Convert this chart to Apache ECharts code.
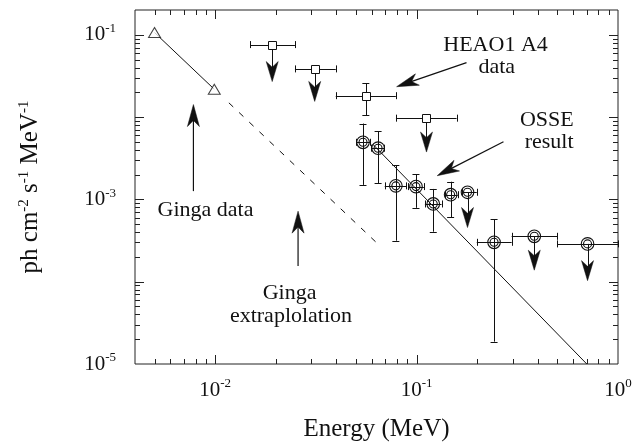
<!DOCTYPE html>
<html><head><meta charset="utf-8">
<script src="https://cdn.jsdelivr.net/npm/echarts@6/dist/echarts.min.js"></script>
<style>html,body{margin:0;padding:0;background:#fff}#c{width:637px;height:447px}</style>
</head><body><div id="c"></div>
<script>
// ---- data ----
// Ginga data points (triangles) and extrapolation
const gingaX = [0.005, 0.0099];
const gingaY = [0.1065, 0.0218];
const gingaExtrapX = [0.0117, 0.064];
const gingaExtrapY = [0.0149, 0.00029];

// HEAO1 A4 points (squares)
const heaoX    = [0.0192, 0.0312, 0.056, 0.112];
const heaoY    = [0.076, 0.0385, 0.0182, 0.0097];
const heaoXLo  = [0.0149, 0.0249, 0.0397, 0.079];
const heaoXHi  = [0.0249, 0.0397, 0.0789, 0.158];
const heaoYLo  = [null, null, 0.0105, null];
const heaoYHi  = [null, null, 0.0258, null];
const heaoLimit = [0.027, 0.0155, null, 0.00376];

// OSSE points (double circles)
const osseX    = [0.0542, 0.0644, 0.0789, 0.0993, 0.121, 0.1476, 0.179, 0.2425, 0.384, 0.706];
const osseY    = [0.00494, 0.00419, 0.00146, 0.00143, 0.00088, 0.00114, 0.00122, 0.000301, 0.000356, 0.000288];
const osseXLo  = [0.0503, 0.0596, 0.0695, 0.0908, 0.110, 0.138, 0.1675, 0.199, 0.2965, 0.498];
const osseXHi  = [0.0589, 0.0693, 0.0891, 0.1087, 0.133, 0.160, 0.199, 0.2965, 0.498, 1.0];
const osseYLo  = [0.0015, 0.00157, 0.000315, 0.00079, 0.000405, 0.00061, null, 0.0000187, null, null];
const osseYHi  = [0.00834, 0.0067, 0.0026, 0.00201, 0.00134, 0.00164, null, 0.00057, null, null];
const osseLimit = [null, null, null, null, null, null, 0.000455, null, 0.000138, 0.000103];

// OSSE power-law fit line
const osseFitX = [0.0605, 0.70];
const osseFitY = [0.0047, 0.00001];

// tick labels (exponents of 10)
const xLabelExps = [-2, -1, 0];
const yLabelExps = [-1, -3, -5];

// annotations
const annTexts = ['HEAO1 A4', 'data', 'OSSE', 'result', 'Ginga data', 'Ginga', 'extraplolation'];
const annTextX = [0.2466, 0.25, 0.443, 0.455, 0.00895, 0.0234, 0.0238];
const annTextY = [0.074, 0.0404, 0.0092, 0.005, 0.000746, 0.000072, 0.0000383];
const annArrowFromX = [0.177, 0.270, 0.0078, 0.0258];
const annArrowFromY = [0.0459, 0.00502, 0.00126, 0.000155];
const annArrowToX   = [0.0796, 0.1266, 0.0078, 0.0258];
const annArrowToY   = [0.0234, 0.00194, 0.0142, 0.00072];

// ---- styling ----
const FONT = '"Liberation Serif", "Times New Roman", serif';
const INK = '#111';
const FRAME = '#222';

const chart = echarts.init(document.getElementById('c'), null, {renderer: 'canvas'});

function expOf(v) {
  const e = Math.log10(v);
  const r = Math.round(e);
  return Math.abs(e - r) < 1e-6 ? r : null;
}
function supLabel(exps) {
  return function (v) {
    const e = expOf(v);
    if (e === null || exps.indexOf(e) < 0) return '';
    return '{b|10}{s|' + e + '}';
  };
}
const labelRich = {
  b: {fontFamily: FONT, fontSize: 21, lineHeight: 22, color: INK},
  s: {fontFamily: FONT, fontSize: 13, lineHeight: 13, color: INK, padding: [0, 0, 12, 0]}
};

// axis decoration ticks (log minor ticks)
const xTicks = [], yTicks = [];
for (let e = -3; e <= 0; e++) for (let m = 1; m <= 9; m++) {
  const v = m * Math.pow(10, e);
  if (v > 0.004 * 1.0001 && v < 1 * 0.9999) xTicks.push([v, 0.001, m === 1 ? 1 : 0]);
}
for (let e = -5; e <= -1; e++) for (let m = 1; m <= 9; m++) {
  const v = m * Math.pow(10, e);
  if (v > 1e-5 * 1.0001 && v < 0.2 * 0.9999) yTicks.push([0.01, v, m === 1 ? 1 : 0]);
}

function px(v) { return Math.round(v) + 0.5; }
const lineStyle = {stroke: INK, lineWidth: 1};

function arrowHead(tx, ty, ang, len, hw) {
  const ca = Math.cos(ang), sa = Math.sin(ang);
  const pts = [[0, 0], [len, hw], [len * 0.72, 0], [len, -hw]].map(p => [tx - p[0] * ca - p[1] * sa, ty - p[0] * sa + p[1] * ca]);
  return {type: 'polygon', shape: {points: pts}, style: {fill: INK, stroke: INK, lineWidth: 0.5}};
}

function errorItem(cx, cy, xl, xh, yt, yb, tipY, children) {
  const cap = 3.5;
  if (xl !== null) {
    children.push({type: 'line', shape: {x1: xl, y1: px(cy), x2: xh, y2: px(cy)}, style: lineStyle});
    children.push({type: 'line', shape: {x1: px(xl), y1: cy - cap, x2: px(xl), y2: cy + cap}, style: lineStyle});
    children.push({type: 'line', shape: {x1: px(xh), y1: cy - cap, x2: px(xh), y2: cy + cap}, style: lineStyle});
  }
  if (yt !== null) {
    children.push({type: 'line', shape: {x1: px(cx), y1: yt, x2: px(cx), y2: yb}, style: lineStyle});
    children.push({type: 'line', shape: {x1: cx - cap, y1: px(yt), x2: cx + cap, y2: px(yt)}, style: lineStyle});
    children.push({type: 'line', shape: {x1: cx - cap, y1: px(yb), x2: cx + cap, y2: px(yb)}, style: lineStyle});
  }
  if (tipY !== null) {
    children.push({type: 'line', shape: {x1: px(cx), y1: cy, x2: px(cx), y2: tipY - 8}, style: lineStyle});
    children.push(arrowHead(cx, tipY, Math.PI / 2, 20, 6));
  }
}

const option = {
  animation: false,
  backgroundColor: '#fff',
  grid: {left: 135, right: 19, top: 10, bottom: 78, show: true, borderColor: FRAME, borderWidth: 1, containLabel: false},
  xAxis: {
    type: 'log', logBase: 10, min: 0.004, max: 1,
    axisLine: {show: false}, axisTick: {show: false}, splitLine: {show: false}, minorTick: {show: false},
    axisLabel: {formatter: supLabel(xLabelExps), rich: labelRich, margin: 15, showMinLabel: true, showMaxLabel: true, hideOverlap: false},
    name: 'Energy (MeV)', nameLocation: 'middle', nameGap: 53,
    nameTextStyle: {fontFamily: FONT, fontSize: 25, color: INK}
  },
  yAxis: {
    type: 'log', logBase: 10, min: 0.00001, max: 0.2,
    axisLine: {show: false}, axisTick: {show: false}, splitLine: {show: false}, minorTick: {show: false},
    axisLabel: {formatter: supLabel(yLabelExps), rich: labelRich, margin: 19, showMinLabel: true, showMaxLabel: true, hideOverlap: false},
    name: 'ph cm{s|-2} s{s|-1} MeV{s|-1}', nameLocation: 'middle', nameGap: 92,
    nameTextStyle: {fontFamily: FONT, fontSize: 25, lineHeight: 26, color: INK,
      rich: {s: {fontFamily: FONT, fontSize: 15, lineHeight: 15, color: INK, padding: [0, 0, 12, 0]}}}
  },
  series: [
    // frame ticks x
    {type: 'custom', silent: true, z: 1, data: xTicks, encode: {x: 0, y: 1},
     renderItem: function (params, api) {
       const cs = params.coordSys;
       const x = px(api.coord([api.value(0), api.value(1)])[0]);
       const len = api.value(2) ? 9 : 5;
       return {type: 'group', children: [
         {type: 'line', shape: {x1: x, y1: cs.y + cs.height, x2: x, y2: cs.y + cs.height - len}, style: {stroke: FRAME, lineWidth: 1}},
         {type: 'line', shape: {x1: x, y1: cs.y, x2: x, y2: cs.y + len}, style: {stroke: FRAME, lineWidth: 1}}
       ]};
     }},
    // frame ticks y
    {type: 'custom', silent: true, z: 1, data: yTicks, encode: {x: 0, y: 1},
     renderItem: function (params, api) {
       const cs = params.coordSys;
       const y = px(api.coord([api.value(0), api.value(1)])[1]);
       const len = api.value(2) ? 9 : 5;
       return {type: 'group', children: [
         {type: 'line', shape: {x1: cs.x, y1: y, x2: cs.x + len, y2: y}, style: {stroke: FRAME, lineWidth: 1}},
         {type: 'line', shape: {x1: cs.x + cs.width, y1: y, x2: cs.x + cs.width - len, y2: y}, style: {stroke: FRAME, lineWidth: 1}}
       ]};
     }},
    // Ginga solid line
    {type: 'line', z: 2, silent: true, symbol: 'none', data: gingaX.map((x, i) => [x, gingaY[i]]),
     lineStyle: {color: INK, width: 1}},
    // Ginga dashed extrapolation
    {type: 'line', z: 2, silent: true, symbol: 'none', data: gingaExtrapX.map((x, i) => [x, gingaExtrapY[i]]),
     lineStyle: {color: INK, width: 1, type: [6, 8]}},
    // OSSE fit
    {type: 'line', z: 2, silent: true, symbol: 'none', data: osseFitX.map((x, i) => [x, osseFitY[i]]),
     lineStyle: {color: INK, width: 1}},
    // Ginga triangles
    {type: 'scatter', z: 4, silent: true, symbol: 'triangle', symbolSize: [12, 10],
     data: gingaX.map((x, i) => [x, gingaY[i]]),
     itemStyle: {color: '#fff', borderColor: INK, borderWidth: 1}},
    // HEAO1 A4
    {type: 'custom', z: 5, silent: true, data: heaoX.map((x, i) => [x, heaoY[i]]), encode: {x: 0, y: 1},
     renderItem: function (params, api) {
       const i = params.dataIndex;
       const c = api.coord([heaoX[i], heaoY[i]]);
       const ch = [];
       const xl = api.coord([heaoXLo[i], heaoY[i]])[0], xh = api.coord([heaoXHi[i], heaoY[i]])[0];
       let yt = null, yb = null, tip = null;
       if (heaoYHi[i] !== null) { yt = api.coord([heaoX[i], heaoYHi[i]])[1]; yb = api.coord([heaoX[i], heaoYLo[i]])[1]; }
       if (heaoLimit[i] !== null) tip = api.coord([heaoX[i], heaoLimit[i]])[1];
       errorItem(c[0], c[1], xl, xh, yt, yb, tip, ch);
       ch.push({type: 'rect', shape: {x: Math.round(c[0]) - 3.5, y: Math.round(c[1]) - 3.5, width: 8, height: 8},
                style: {fill: '#fff', stroke: INK, lineWidth: 1}});
       return {type: 'group', children: ch};
     }},
    // OSSE
    {type: 'custom', z: 5, silent: true, data: osseX.map((x, i) => [x, osseY[i]]), encode: {x: 0, y: 1},
     renderItem: function (params, api) {
       const i = params.dataIndex;
       const c = api.coord([osseX[i], osseY[i]]);
       const ch = [];
       const xl = api.coord([osseXLo[i], osseY[i]])[0], xh = api.coord([osseXHi[i], osseY[i]])[0];
       let yt = null, yb = null, tip = null;
       if (osseYHi[i] !== null) { yt = api.coord([osseX[i], osseYHi[i]])[1]; yb = api.coord([osseX[i], osseYLo[i]])[1]; }
       if (osseLimit[i] !== null) tip = api.coord([osseX[i], osseLimit[i]])[1];
       errorItem(c[0], c[1], xl, xh, yt, yb, tip, ch);
       ch.push({type: 'circle', shape: {cx: c[0], cy: c[1], r: 6.3}, style: {fill: null, stroke: INK, lineWidth: 1.1}});
       ch.push({type: 'circle', shape: {cx: c[0], cy: c[1], r: 4}, style: {fill: null, stroke: INK, lineWidth: 1.1}});
       return {type: 'group', children: ch};
     }},
    // annotation arrows
    {type: 'custom', z: 6, silent: true, data: annArrowFromX.map((x, i) => [x, annArrowFromY[i]]), encode: {x: 0, y: 1},
     renderItem: function (params, api) {
       const i = params.dataIndex;
       const a = api.coord([annArrowFromX[i], annArrowFromY[i]]);
       const b = api.coord([annArrowToX[i], annArrowToY[i]]);
       const ang = Math.atan2(b[1] - a[1], b[0] - a[0]);
       const ex = b[0] - Math.cos(ang) * 10, ey = b[1] - Math.sin(ang) * 10;
       return {type: 'group', children: [
         {type: 'line', shape: {x1: a[0], y1: a[1], x2: ex, y2: ey}, style: {stroke: INK, lineWidth: 1.2}},
         arrowHead(b[0], b[1], ang, 22, 6)
       ]};
     }},
    // annotation texts
    {type: 'custom', z: 6, silent: true, data: annTextX.map((x, i) => [x, annTextY[i]]), encode: {x: 0, y: 1},
     renderItem: function (params, api) {
       const i = params.dataIndex;
       const p = api.coord([annTextX[i], annTextY[i]]);
       return {type: 'text', x: p[0], y: p[1],
               style: {text: annTexts[i], fontFamily: FONT, fontSize: 22, fill: INK, align: 'center', verticalAlign: 'middle'}};
     }}
  ]
};
chart.setOption(option);
</script>
</body></html>
